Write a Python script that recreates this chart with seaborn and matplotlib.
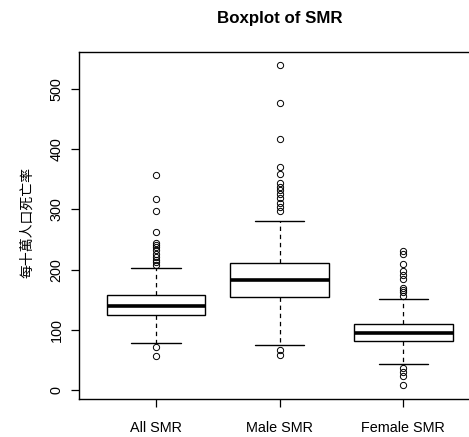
import matplotlib
matplotlib.use("Agg")
import matplotlib.pyplot as plt
import seaborn as sns
import pandas as pd

# ---- data ----
groups = ["All SMR", "Male SMR", "Female SMR"]

all_smr = [56.9, 71.9, 78,
           84, 91, 97, 102, 106, 110, 113, 116, 119, 121, 123,
           125,
           126, 127, 128, 129, 130, 131, 132, 133, 134, 135, 136, 137, 138,
           139.4,
           141, 142, 143, 144, 146, 147, 148, 149, 150, 152, 153, 154, 156,
           157.6, 202.5,
           208, 212.4, 216, 221.7, 225.7, 232.8, 237, 241, 245, 262.7, 297, 317, 356.8]

male_smr = [59.1, 67.4, 75.2,
            88, 100, 110, 118, 125, 131, 136, 141, 145, 149, 152,
            155.3,
            157, 159, 161, 163, 165, 167, 169, 171, 173, 175, 177, 179, 181,
            182.5,
            184, 186, 188, 190, 192, 194, 196, 198, 200, 202, 205, 207, 210,
            211.8, 280.4,
            298, 303.7, 311.3, 318.6, 325.8, 332.4, 338, 343.5, 359.5, 370, 416.5, 477, 539.8]

female_smr = [8.3, 23.7, 30.9, 37.5, 44.2,
              52, 60, 66, 71, 75, 79,
              82,
              83, 84, 85.5, 87, 88, 89.5, 91, 92, 93, 94,
              95.1,
              96.5, 98, 99.5, 101, 102.5, 104, 105, 106.5, 108, 109,
              110, 151.5,
              157, 163.1, 166.4, 170.3, 184.2, 190.8, 197.5, 210, 226.2, 231.7]

y_ticks = [0, 100, 200, 300, 400, 500]
title = "Boxplot of SMR"
y_label = "每十萬人口死亡率"

df = pd.DataFrame({
    "group": [groups[0]] * len(all_smr) + [groups[1]] * len(male_smr) + [groups[2]] * len(female_smr),
    "value": all_smr + male_smr + female_smr,
})

# ---- style ----
sns.set_style("white")
plt.rcParams["font.family"] = ["Liberation Sans", "Noto Sans CJK TC", "DejaVu Sans"]
plt.rcParams["axes.edgecolor"] = "black"
plt.rcParams["axes.linewidth"] = 1.0
plt.rcParams["text.color"] = "black"
plt.rcParams["axes.labelcolor"] = "black"

fig = plt.figure(figsize=(4.69, 4.37), dpi=100)
ax = fig.add_axes([0.1691, 0.0863, 0.8544, 0.7943])

sns.boxplot(
    data=df, x="group", y="value", order=groups, ax=ax,
    color="white", linecolor="black", linewidth=1.0, width=0.8,
    saturation=1, fliersize=4.5,
    boxprops=dict(facecolor="white", edgecolor="black", linewidth=1.0),
    whiskerprops=dict(color="black", linestyle=(0, (3.5, 3)), linewidth=0.9),
    capprops=dict(color="black", linewidth=1.0),
    medianprops=dict(color="black", linewidth=2.6),
    flierprops=dict(marker="o", markerfacecolor="none", markeredgecolor="black",
                    markeredgewidth=0.7, markersize=4.5),
)

ax.set_xlim(-0.62, 2.62)
ax.set_ylim(-14.9, 561)
ax.set_yticks(y_ticks)
ax.set_yticklabels([str(t) for t in y_ticks])
ax.set_xlabel("")
ax.set_ylabel(y_label, fontsize=10, color="black",
              family=["Noto Sans CJK TC", "DejaVu Sans"])
ax.yaxis.set_label_coords(-0.112, 0.51)

ax.tick_params(axis="both", direction="out", length=5.8, width=0.9, color="black",
               labelsize=10.4, labelcolor="black")
ax.tick_params(axis="x", pad=10, bottom=True)
ax.tick_params(axis="y", pad=5.5, labelrotation=90, left=True)
for lbl in ax.get_yticklabels():
    lbl.set_va("center")

for s in ax.spines.values():
    s.set_visible(True)
    s.set_color("black")
    s.set_linewidth(1.0)

ax.set_title(title, fontsize=12.2, fontweight="bold", color="black", pad=21)
ax.grid(False)

fig.savefig("out.png", dpi=100)
